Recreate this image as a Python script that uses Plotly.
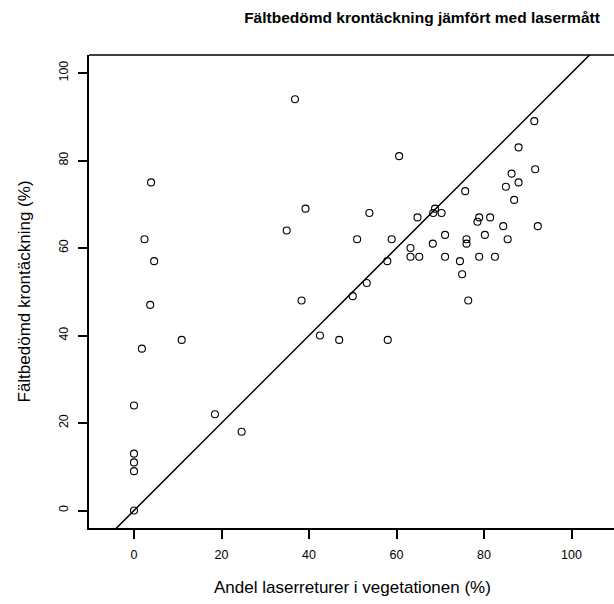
import plotly.graph_objects as go

# Data
laser_pct = [0, 0, 0, 0, 0, 1.8, 2.4, 3.7, 3.9, 4.6, 10.9, 18.5, 24.6, 34.9, 36.8, 38.3,
             39.2, 42.5, 46.9, 50.0, 51.0, 53.2, 53.8, 57.9, 58.0, 58.9, 60.6, 63.2, 63.2,
             64.8, 65.2, 68.3, 68.4, 68.8, 70.3, 71.1, 71.1, 74.5, 75.0, 75.7, 76.0, 76.0,
             76.4, 78.5, 78.9, 78.9, 80.2, 81.4, 82.5, 84.4, 85.0, 85.4, 86.3, 86.9, 87.9,
             87.9, 91.5, 91.7, 92.3]
field_pct = [0, 9, 11, 13, 24, 37, 62, 47, 75, 57, 39, 22, 18, 64, 94, 48,
             69, 40, 39, 49, 62, 52, 68, 57, 39, 62, 81, 60, 58,
             67, 58, 61, 68, 69, 68, 63, 58, 57, 54, 73, 62, 61,
             48, 66, 67, 58, 63, 67, 58, 65, 74, 62, 77, 71, 75,
             83, 89, 78, 65]

# 1:1 reference line (intercept 0, slope 1)
ref_x = [-20, 130]
ref_y = [-20, 130]

tick_vals = [0, 20, 40, 60, 80, 100]

title_text = "Fältbedömd krontäckning jämfört med lasermått"
x_label = "Andel laserreturer i vegetationen (%)"
y_label = "Fältbedömd krontäckning (%)"

FONT = "Liberation Sans, Arial, Helvetica, sans-serif"

fig = go.Figure()
fig.add_trace(go.Scatter(x=ref_x, y=ref_y, mode="lines",
                         line=dict(color="black", width=1.5),
                         hoverinfo="skip", showlegend=False))
fig.add_trace(go.Scatter(x=laser_pct, y=field_pct, mode="markers",
                         marker=dict(symbol="circle-open", size=7,
                                     color="black", line=dict(width=1.1)),
                         showlegend=False))

fig.update_layout(
    width=614, height=604,
    margin=dict(l=89, r=0, t=55, b=76),
    paper_bgcolor="white", plot_bgcolor="white",
    font=dict(family=FONT, color="black"),
    title=dict(text="<b>" + title_text + "</b>", xref="container", yref="container",
               x=422 / 614, y=1 - 18 / 604, xanchor="center", yanchor="middle",
               font=dict(size=15.5, family=FONT, color="black")),
    xaxis=dict(range=[-(134 - 89) / 4.375, (614 - 134) / 4.375],
               tickvals=tick_vals, ticks="outside", ticklen=9, tickwidth=1.5,
               tickcolor="black", showline=True, linecolor="black", linewidth=1.5,
               showgrid=False, zeroline=False, tickfont=dict(size=12.5),
               ticklabelstandoff=5),
    yaxis=dict(range=[(510.5 - 528) / 4.375, (510.5 - 55) / 4.375],
               tickvals=tick_vals, ticks="outside", ticklen=9, tickwidth=1.5,
               tickcolor="black", showline=True, linecolor="black", linewidth=1.5,
               showgrid=False, zeroline=False, tickangle=-90,
               tickfont=dict(size=12.5), ticklabelstandoff=5),
    shapes=[dict(type="line", xref="paper", yref="paper", x0=0, x1=1, y0=1, y1=1,
                 line=dict(color="black", width=1.5))],
    annotations=[
        dict(text=x_label, xref="paper", yref="paper", x=(352 - 89) / 525,
             y=(528 - 587) / 473, xanchor="center", yanchor="middle",
             showarrow=False, font=dict(size=17)),
        dict(text=y_label, xref="paper", yref="paper", x=(24 - 89) / 525,
             y=0.5, xanchor="center", yanchor="middle", textangle=-90,
             showarrow=False, font=dict(size=17)),
    ],
)

fig.write_html("out.html", config={"displayModeBar": False},
               post_script="document.body.style.margin='0';document.body.style.overflow='hidden';")
